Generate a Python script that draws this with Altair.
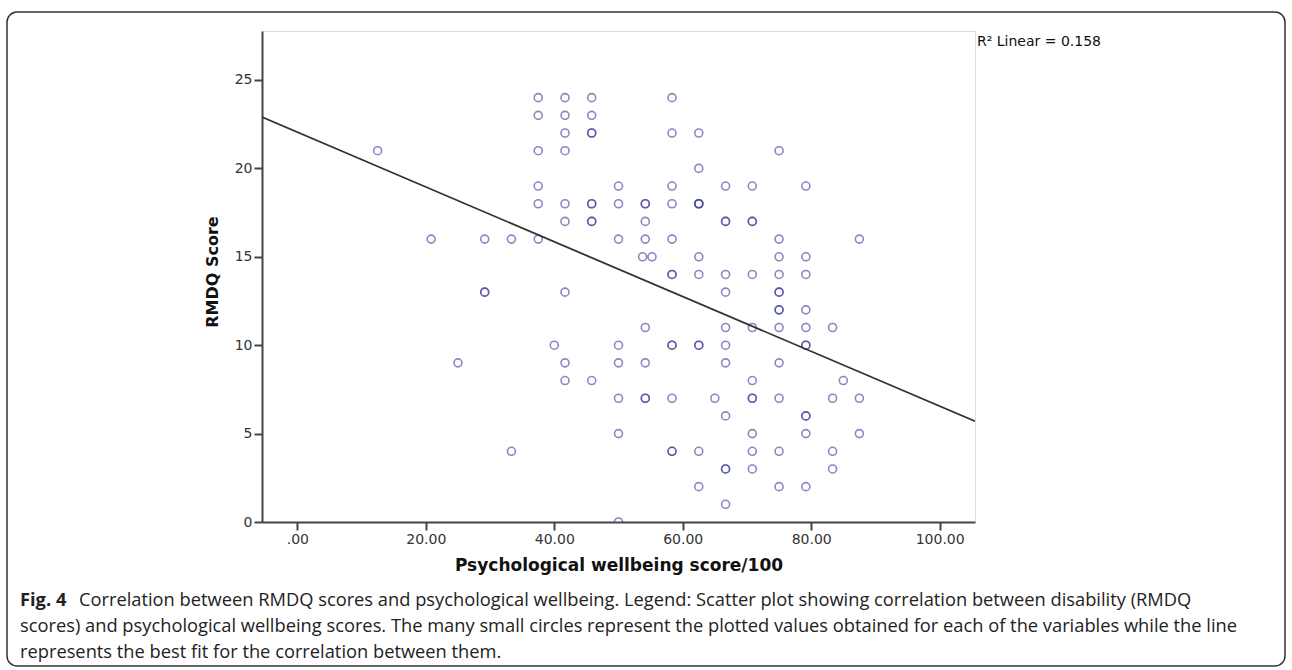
import altair as alt
import pandas as pd

# ---- data (duplicates = darker circles) ----
rows = {
    24: [37.5, 41.67, 45.83, 58.33],
    23: [37.5, 41.67, 45.83],
    22: [41.67, 45.83, 45.83, 58.33, 62.5],
    21: [12.5, 37.5, 41.67, 75],
    20: [62.5],
    19: [37.5, 50, 58.33, 66.67, 70.83, 79.17],
    18: [37.5, 41.67, 45.83, 45.83, 50, 54.17, 54.17, 58.33, 62.5, 62.5, 62.5],
    17: [41.67, 45.83, 45.83, 54.17, 66.67, 66.67, 70.83, 70.83],
    16: [20.83, 29.17, 33.33, 37.5, 50, 54.17, 58.33, 75, 87.5],
    15: [53.75, 55.21, 62.5, 75, 79.17],
    14: [58.33, 58.33, 62.5, 66.67, 70.83, 75, 79.17],
    13: [29.17, 29.17, 41.67, 66.67, 75, 75],
    12: [75, 75, 79.17],
    11: [54.17, 66.67, 70.83, 75, 79.17, 83.33],
    10: [40, 50, 58.33, 58.33, 62.5, 62.5, 66.67, 79.17, 79.17],
    9: [25, 41.67, 50, 54.17, 66.67, 75],
    8: [41.67, 45.83, 70.83, 85],
    7: [50, 54.17, 54.17, 58.33, 65, 70.83, 70.83, 75, 83.33, 87.5],
    6: [66.67, 79.17, 79.17],
    5: [50, 70.83, 79.17, 87.5],
    4: [33.33, 58.33, 58.33, 62.5, 70.83, 75, 83.33],
    3: [66.67, 66.67, 70.83, 83.33],
    2: [62.5, 75, 79.17],
    1: [66.67],
    0: [50],
}
wellbeing = []
rmdq = []
for yv, xs in rows.items():
    for xv in xs:
        wellbeing.append(xv)
        rmdq.append(yv)

fit_x = [-5.5, 105.5]
fit_y = [22.9, 5.7]

x_ticks = [0, 20, 40, 60, 80, 100]
y_ticks = [0, 5, 10, 15, 20, 25]

r2_label = "R\u00b2 Linear = 0.158"
caption_bold = "Fig. 4"
caption_lines = [
    "Correlation between RMDQ scores and psychological wellbeing. Legend: Scatter plot showing correlation between disability (RMDQ",
    "scores) and psychological wellbeing scores. The many small circles represent the plotted values obtained for each of the variables while the line",
    "represents the best fit for the correlation between them.",
]

# ---- chart ----
W, H = 713, 491
LEFT, TOP = 262, 31
AXFONT = "DejaVu Sans"

pts = pd.DataFrame({"x": wellbeing, "y": rmdq})
fit = pd.DataFrame({"x": fit_x, "y": fit_y})

xscale = alt.Scale(domain=[-5.5, 105.5], nice=False, zero=False)
yscale = alt.Scale(domain=[0, 27.77], nice=False, zero=False)

xaxis = alt.Axis(
    values=x_ticks,
    labelExpr="datum.value === 0 ? '.00' : format(datum.value, '.2f')",
    title="Psychological wellbeing score/100",
    titleFont=AXFONT, titleFontSize=17, titleFontWeight="bold",
    titleColor="#111", titleY=43, titleBaseline="middle",
    labelFont=AXFONT, labelFontSize=14, labelColor="#333",
    tickSize=8, tickColor="#444", tickWidth=2, labelPadding=2,
    domainColor="#444", domainWidth=2, grid=False,
)
yaxis = alt.Axis(
    values=y_ticks,
    title="RMDQ Score",
    titleFont=AXFONT, titleFontSize=16, titleFontWeight="bold",
    titleColor="#111", titleX=-50, titleY=H / 2 - 5, titleAngle=270,
    titleAlign="center", titleBaseline="middle",
    labelFont=AXFONT, labelFontSize=14, labelColor="#333",
    tickSize=8, tickColor="#444", tickWidth=2, labelPadding=2,
    domainColor="#444", domainWidth=2, grid=False,
)

points = alt.Chart(pts).mark_point(
    shape="circle", filled=False, size=64, strokeWidth=1.6,
    color="#3a3d96", opacity=0.6, clip=True,
).encode(
    x=alt.X("x:Q", scale=xscale, axis=xaxis),
    y=alt.Y("y:Q", scale=yscale, axis=yaxis),
)

line = alt.Chart(fit).mark_line(color="#333333", strokeWidth=1.8, clip=True).encode(
    x=alt.X("x:Q", scale=xscale),
    y=alt.Y("y:Q", scale=yscale),
)

one = alt.Data(values=[{"a": 1}])

r2 = alt.Chart(one).mark_text(
    text=r2_label, align="left", baseline="middle",
    font=AXFONT, fontSize=14, color="#111",
).encode(x=alt.value(977 - LEFT), y=alt.value(42 - TOP))

CAPSIZE = 18.3
cap_layers = []
cap_x = [79, 20, 20]
for i, txt in enumerate(caption_lines):
    cap_layers.append(
        alt.Chart(one).mark_text(
            text=txt, align="left", baseline="middle", font="Open Sans",
            fontSize=CAPSIZE, color="#222",
        ).encode(x=alt.value(cap_x[i] - LEFT), y=alt.value(601 + 26 * i - TOP))
    )

cap_bold = alt.Chart(one).mark_text(
    text=caption_bold, align="left", baseline="middle", font="Open Sans",
    fontSize=CAPSIZE, fontWeight="bold", color="#222",
).encode(x=alt.value(20 - LEFT), y=alt.value(601 - TOP))

frame = alt.Chart(one).mark_rect(
    fill=None, stroke="#333", strokeWidth=1.5, cornerRadius=10,
).encode(
    x=alt.value(7 - LEFT), x2=alt.value(1285 - LEFT),
    y=alt.value(12 - TOP), y2=alt.value(666 - TOP),
)

chart = alt.layer(frame, points, line, r2, cap_bold, *cap_layers).properties(
    width=W, height=H,
    autosize=alt.AutoSizeParams(type="none"),
    padding={"left": LEFT, "top": TOP, "right": 1292 - LEFT - W, "bottom": 670 - TOP - H},
).configure_view(stroke="#8a8a8a", strokeWidth=2).configure(background="white")

chart.save("out.html", embed_options={"renderer": "svg", "actions": False})
